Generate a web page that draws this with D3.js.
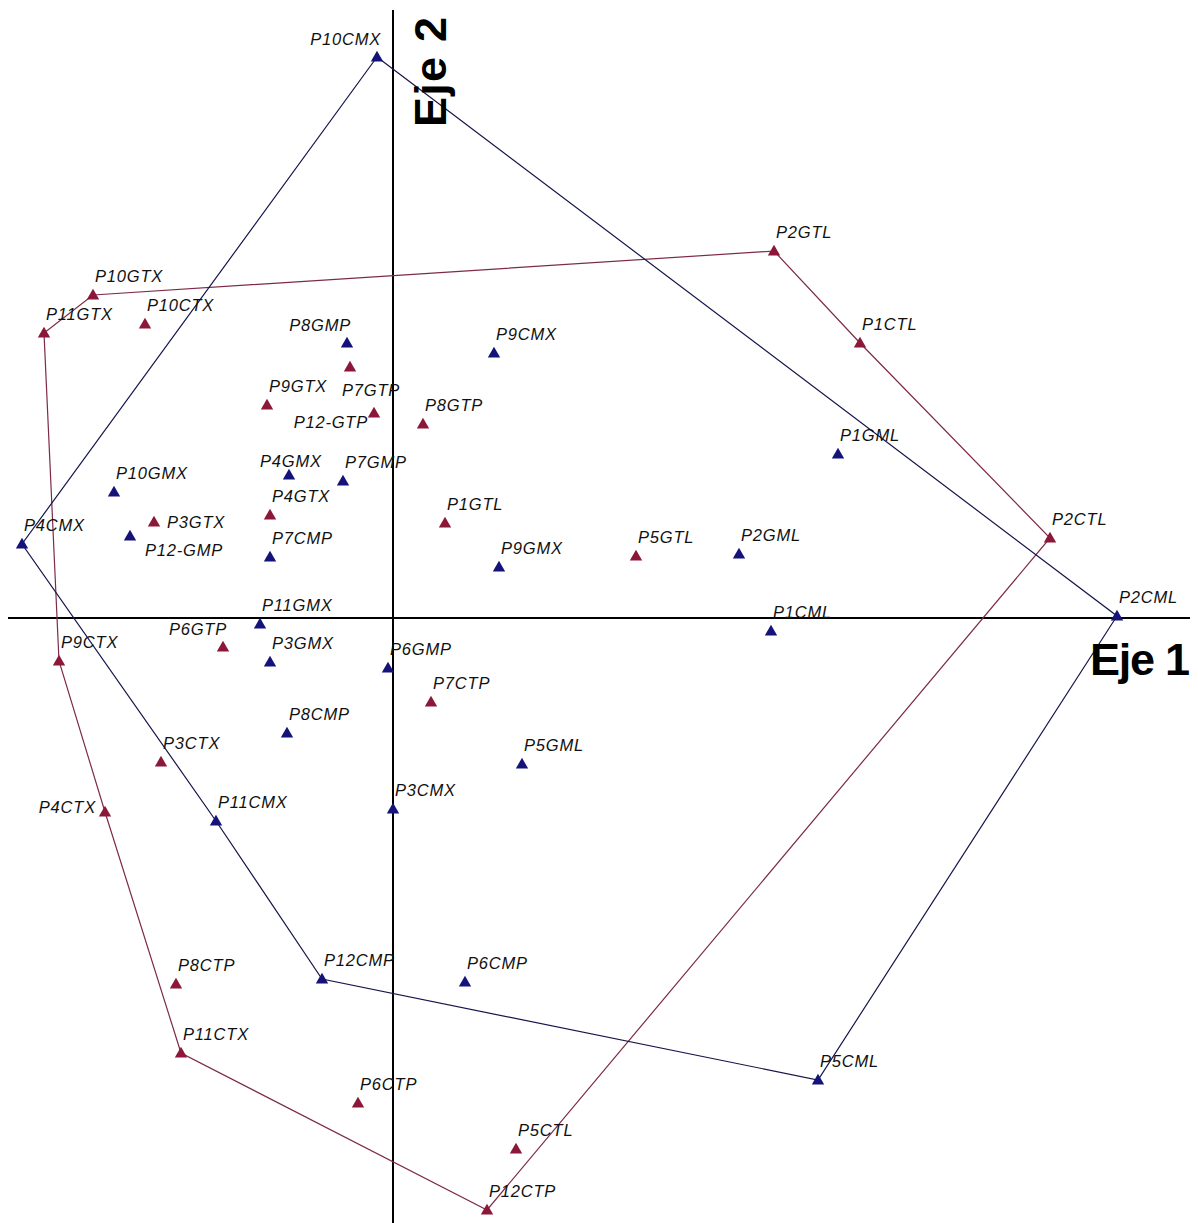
<!DOCTYPE html>
<html>
<head>
<meta charset="utf-8">
<script src="https://cdn.jsdelivr.net/npm/d3@7"></script>
<style>
  html, body { margin: 0; padding: 0; background: #fff; }
  svg { display: block; }
  .lbl { font-family: "Liberation Sans", Arial, sans-serif; font-style: italic; font-size: 16.5px; letter-spacing: 0.8px; fill: #111; }
  .eje { font-family: "Liberation Sans", Arial, sans-serif; font-weight: bold; font-size: 45px; fill: #000; }
</style>
</head>
<body>
<div class="chart"></div>
<script>
(function () {
    "use strict";

    // group "M" (blue) : name, eje 1, eje 2
    var namesM = ["P10CMX", "P9CMX", "P1GML", "P8GMP", "P4GMX", "P7GMP", "P10GMX", "P12-GMP",
        "P7CMP", "P4CMX", "P9GMX", "P2GML", "P2CML", "P1CML", "P11GMX", "P3GMX", "P6GMP",
        "P8CMP", "P5GML", "P3CMX", "P11CMX", "P12CMP", "P6CMP", "P5CML"];
    var xM = [-0.16, 1.01, 4.45, -0.46, -1.04, -0.50, -2.79, -2.63,
        -1.23, -3.71, 1.06, 3.46, 7.24, 3.78, -1.33, -1.23, -0.05,
        -1.06, 1.29, 0.00, -1.77, -0.71, 0.72, 4.25];
    var yM = [5.61, 2.65, 1.64, 2.75, 1.43, 1.37, 1.26, 0.82,
        0.61, 0.74, 0.51, 0.64, 0.02, -0.13, -0.06, -0.44, -0.50,
        -1.15, -1.46, -1.91, -2.03, -3.61, -3.64, -4.62];
    var hullM = ["P10CMX", "P2CML", "P5CML", "P12CMP", "P11CMX", "P4CMX"];

    // group "T" (red)
    var namesT = ["P2GTL", "P10GTX", "P11GTX", "P10CTX", "P1CTL", "P7GTP", "P9GTX", "P12-GTP",
        "P8GTP", "P4GTX", "P3GTX", "P1GTL", "P5GTL", "P2CTL", "P9CTX", "P6GTP", "P7CTP",
        "P3CTX", "P4CTX", "P8CTP", "P11CTX", "P6CTP", "P5CTL", "P12CTP"];
    var xT = [3.81, -3.00, -3.49, -2.48, 4.67, -0.43, -1.26, -0.19,
        0.30, -1.23, -2.39, 0.52, 2.43, 6.57, -3.34, -1.70, 0.38,
        -2.32, -2.88, -2.17, -2.12, -0.35, 1.23, 0.94];
    var yT = [3.67, 3.23, 2.85, 2.94, 2.75, 2.51, 2.13, 2.05,
        1.94, 1.03, 0.96, 0.95, 0.62, 0.80, -0.43, -0.29, -0.84,
        -1.44, -1.94, -3.66, -4.35, -4.85, -5.31, -5.92];
    var hullT = ["P10GTX", "P2GTL", "P1CTL", "P2CTL", "P12CTP", "P11CTX", "P4CTX", "P9CTX", "P11GTX"];

    var axisNames = ["Eje 1", "Eje 2"];

    // where a label sits when it is not above-right of its point
    var labelPlace = {
        "P10CMX": "nw", "P8GMP": "nw", "P6GTP": "nw", "P7GTP": "s", "P12-GTP": "sw",
        "P3GTX": "e", "P12-GMP": "se", "P4CTX": "w", "P4GMX": "n"
    };

    var width = 1198, height = 1223;
    var colorM = "#13137a", colorT = "#8b1739";
    var lineM = "#15154a", lineT = "#7d2a48";

    var x = d3.scaleLinear().domain([-3.93, 8.05]).range([0, width]);
    var y = d3.scaleLinear().domain([6.18, -6.05]).range([0, height]);

    var svg = d3.select("div.chart").append("svg")
        .attr("width", width)
        .attr("height", height);

    function makePoints(names, xs, ys, grp) {
        return names.map(function (n, i) {
            return { name: n, x: xs[i], y: ys[i], grp: grp };
        });
    }
    var ptsM = makePoints(namesM, xM, yM, "M");
    var ptsT = makePoints(namesT, xT, yT, "T");
    var all = ptsM.concat(ptsT);

    function byName(pts, n) {
        return pts.filter(function (d) { return d.name === n; })[0];
    }

    // axes through the origin
    svg.append("line")
        .attr("x1", x(-3.85)).attr("x2", x(7.97))
        .attr("y1", y(0)).attr("y2", y(0))
        .attr("stroke", "#000").attr("stroke-width", 2);
    svg.append("line")
        .attr("x1", x(0)).attr("x2", x(0))
        .attr("y1", y(6.08)).attr("y2", y(-6.05))
        .attr("stroke", "#000").attr("stroke-width", 2);

    // hulls
    var line = d3.line()
        .x(function (d) { return x(d.x); })
        .y(function (d) { return y(d.y); })
        .curve(d3.curveLinearClosed);

    svg.append("path")
        .datum(hullT.map(function (n) { return byName(ptsT, n); }))
        .attr("d", line)
        .attr("fill", "none")
        .attr("stroke", lineT)
        .attr("stroke-width", 1.2);

    svg.append("path")
        .datum(hullM.map(function (n) { return byName(ptsM, n); }))
        .attr("d", line)
        .attr("fill", "none")
        .attr("stroke", lineM)
        .attr("stroke-width", 1.2);

    // axis titles
    svg.append("text")
        .attr("class", "eje")
        .attr("x", x(6.97))
        .attr("y", y(-0.57))
        .attr("textLength", 100)
        .text(axisNames[0]);

    svg.append("text")
        .attr("class", "eje")
        .attr("transform", "translate(" + x(0.53) + "," + y(4.91) + ") rotate(-90)")
        .attr("textLength", 110)
        .text(axisNames[1]);

    // markers
    var tri = d3.symbol().type(d3.symbolTriangle).size(66);
    svg.append("g").selectAll("path")
        .data(all)
        .enter()
        .append("path")
        .attr("d", tri)
        .attr("transform", function (d) {
            return "translate(" + x(d.x) + "," + (y(d.y) + 1) + ")";
        })
        .attr("fill", function (d) { return d.grp === "M" ? colorM : colorT; });

    // labels
    var offsets = {
        ne: [2, -13, "start"],
        nw: [4, -12, "end"],
        n: [-29, -8, "start"],
        s: [-8, 29, "start"],
        sw: [-6, 15, "end"],
        e: [13, 6, "start"],
        se: [15, 20, "start"],
        w: [-9, 1, "end"]
    };

    svg.append("g").selectAll("text")
        .data(all)
        .enter()
        .append("text")
        .attr("class", "lbl")
        .attr("x", function (d) { return x(d.x) + offsets[labelPlace[d.name] || "ne"][0]; })
        .attr("y", function (d) { return y(d.y) + offsets[labelPlace[d.name] || "ne"][1]; })
        .attr("text-anchor", function (d) { return offsets[labelPlace[d.name] || "ne"][2]; })
        .text(function (d) { return d.name; });
})();
</script>
</body>
</html>
